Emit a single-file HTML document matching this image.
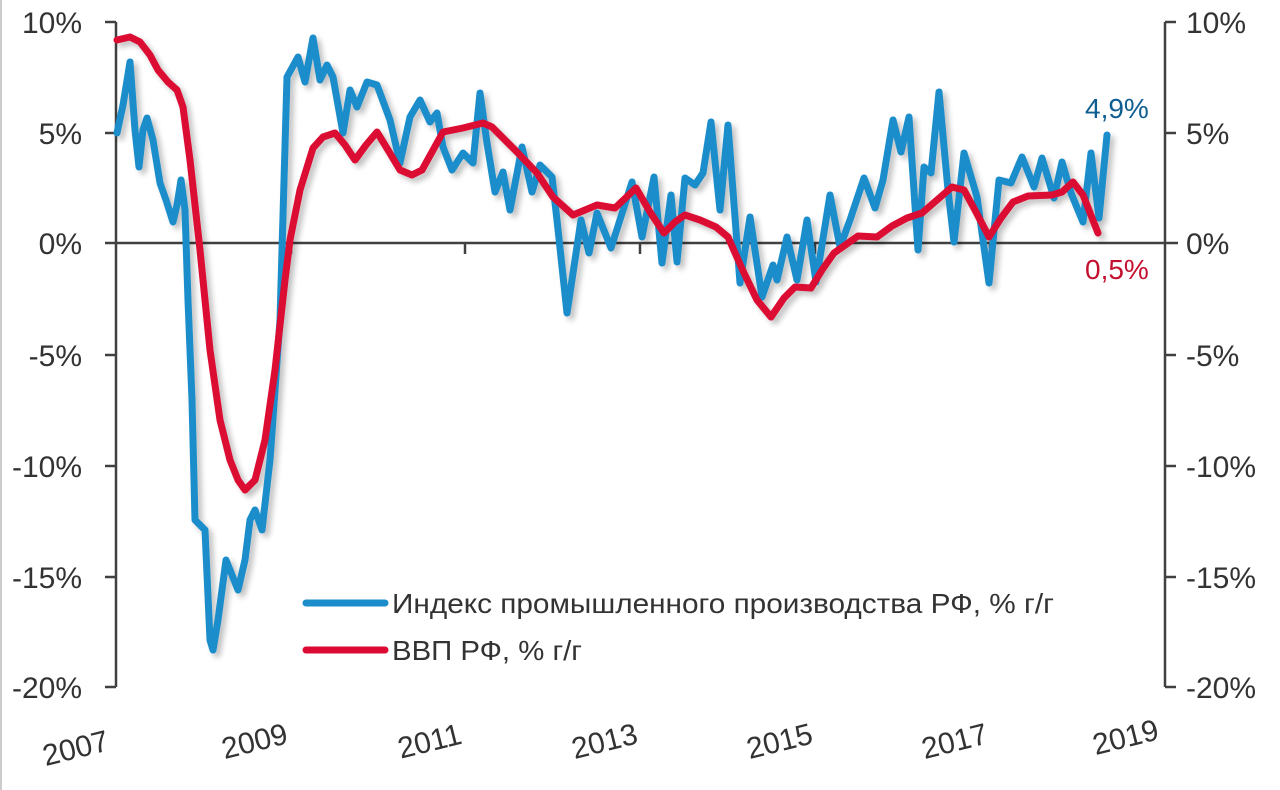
<!DOCTYPE html>
<html><head><meta charset="utf-8"><style>
body{margin:0;background:#fff;}
svg{display:block;}
text{font-family:"Liberation Sans",sans-serif;fill:#333;}
</style></head><body>
<svg width="1280" height="790" viewBox="0 0 1280 790">
<defs><filter id="sh" x="-10%" y="-10%" width="120%" height="120%"><feGaussianBlur in="SourceAlpha" stdDeviation="3"/><feOffset dx="4" dy="4"/><feComponentTransfer><feFuncA type="linear" slope="0.25"/></feComponentTransfer><feMerge><feMergeNode/><feMergeNode in="SourceGraphic"/></feMerge></filter></defs>
<line x1="1" y1="0" x2="1" y2="790" stroke="#999" stroke-width="1"/>
<g stroke="#404040" stroke-width="2.5" fill="none">
<line x1="116" y1="22" x2="116" y2="687"/>
<line x1="1165" y1="22" x2="1165" y2="687"/>
<line x1="105" y1="243" x2="1178" y2="243"/>
<line x1="105" y1="22" x2="116" y2="22"/><line x1="105" y1="133" x2="116" y2="133"/><line x1="105" y1="355" x2="116" y2="355"/><line x1="105" y1="466" x2="116" y2="466"/><line x1="105" y1="577" x2="116" y2="577"/><line x1="105" y1="687" x2="116" y2="687"/>
<line x1="1165" y1="22" x2="1176" y2="22"/><line x1="1165" y1="133" x2="1176" y2="133"/><line x1="1165" y1="355" x2="1176" y2="355"/><line x1="1165" y1="466" x2="1176" y2="466"/><line x1="1165" y1="577" x2="1176" y2="577"/><line x1="1165" y1="687" x2="1176" y2="687"/>
<line x1="291" y1="243" x2="291" y2="254"/><line x1="465" y1="243" x2="465" y2="254"/><line x1="640" y1="243" x2="640" y2="254"/><line x1="815" y1="243" x2="815" y2="254"/><line x1="990" y1="243" x2="990" y2="254"/>
</g>
<g font-size="30" text-anchor="end">
<text x="82" y="33">10%</text><text x="82" y="144">5%</text><text x="82" y="254">0%</text><text x="82" y="366">-5%</text><text x="82" y="477">-10%</text><text x="82" y="588">-15%</text><text x="82" y="698">-20%</text>
</g>
<g font-size="30" text-anchor="start">
<text x="1186" y="33">10%</text><text x="1186" y="144">5%</text><text x="1186" y="254">0%</text><text x="1186" y="366">-5%</text><text x="1186" y="477">-10%</text><text x="1186" y="588">-15%</text><text x="1186" y="698">-20%</text>
</g>
<g font-size="30" text-anchor="middle">
<text transform="translate(78,758) rotate(-14)">2007</text>
<text transform="translate(257,751) rotate(-14)">2009</text>
<text transform="translate(432,751) rotate(-14)">2011</text>
<text transform="translate(607,751) rotate(-14)">2013</text>
<text transform="translate(782,751) rotate(-14)">2015</text>
<text transform="translate(957,751) rotate(-14)">2017</text>
<text transform="translate(1128,747) rotate(-14)">2019</text>
</g>
<g fill="none" stroke-width="7" stroke-linejoin="round" stroke-linecap="round" filter="url(#sh)">
<polyline stroke="#1b8dcb" points="117,133 123,105 130,62 135,130 139,167 143,130 147,118 153,140 160,183 166,200 173,222 177,205 181,180 185,210 188,300 192,400 195,520 200,525 205,530 210,640 213,650 218,620 226,560 232,575 238,590 245,560 250,520 255,510 262,530 270,460 280,320 287,77 298,57 305,82 313,38 320,80 327,65 333,77 343,133 350,90 357,107 367,82 377,85 390,120 400,163 410,117 420,100 430,122 437,113 443,147 452,170 463,153 473,163 480,93 487,143 495,192 503,172 510,210 522,147 532,192 540,165 552,177 557,220 567,313 581,220 589,253 597,213 611,248 632,182 642,237 654,177 662,263 671,195 677,262 685,178 695,185 703,173 711,122 720,210 728,125 740,283 750,217 762,297 773,265 777,280 787,237 797,280 807,220 816,282 830,195 840,247 850,220 864,178 875,208 883,180 893,120 901,152 909,117 918,250 924,167 931,173 939,92 948,190 954,242 964,153 977,197 989,283 999,180 1011,183 1022,157 1034,187 1042,158 1054,198 1062,162 1071,193 1083,222 1091,153 1099,218 1107,135"/>
<polyline stroke="#dc0a32" points="117,40 130,37 140,42 150,55 158,70 168,82 177,90 183,107 190,160 200,250 210,350 220,420 230,460 238,480 245,490 255,480 265,440 275,370 285,280 290,240 300,190 313,148 323,137 335,133 345,145 355,160 366,145 377,132 388,150 400,170 412,175 422,170 432,152 443,132 463,128 483,123 492,127 505,140 517,152 537,173 553,197 573,215 585,210 597,205 615,208 636,188 650,212 664,233 675,222 685,215 700,220 716,227 728,237 744,273 757,300 771,317 784,298 795,287 811,288 822,270 834,253 858,236 877,237 892,226 907,218 922,213 937,200 952,187 964,190 976,212 989,237 1001,218 1013,202 1028,196 1052,195 1062,192 1073,182 1083,195 1098,233"/>
</g>
<line x1="306" y1="603" x2="385" y2="603" stroke="#1b8dcb" stroke-width="7" stroke-linecap="round"/>
<line x1="306" y1="650" x2="385" y2="650" stroke="#dc0a32" stroke-width="7" stroke-linecap="round"/>
<text x="392" y="613" font-size="28" textLength="662" lengthAdjust="spacingAndGlyphs">Индекс промышленного производства РФ, % г/г</text>
<text x="392" y="660" font-size="28" textLength="190" lengthAdjust="spacingAndGlyphs">ВВП РФ, % г/г</text>
<text x="1085" y="118" font-size="28" style="fill:#0e5e91">4,9%</text>
<text x="1085" y="279" font-size="28" style="fill:#c4102f">0,5%</text>
</svg>
</body></html>
